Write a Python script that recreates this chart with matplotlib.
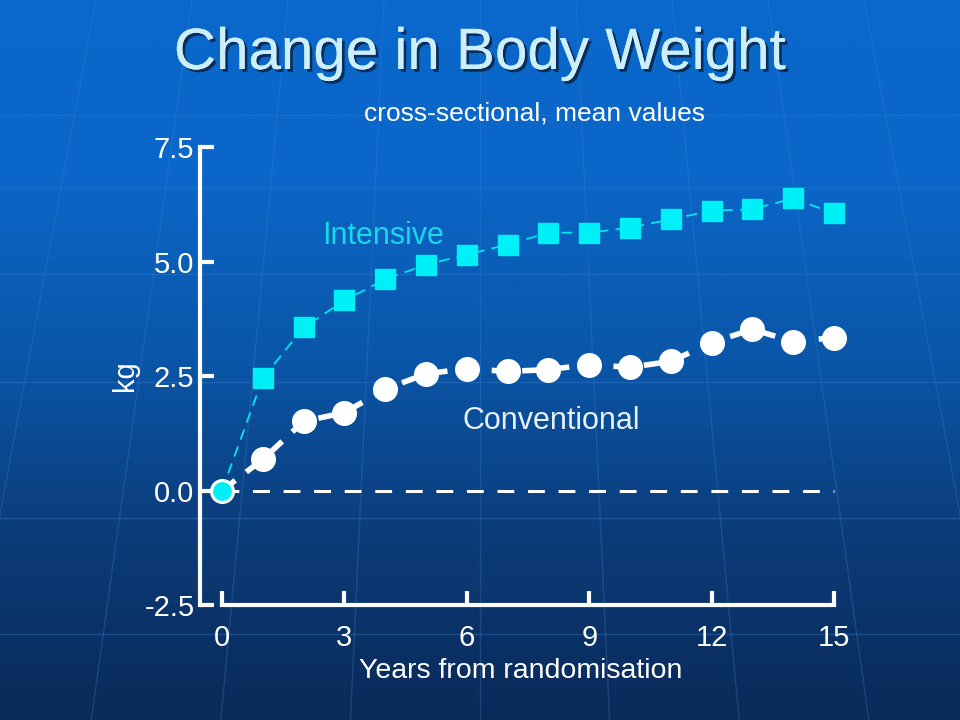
import numpy as np
import matplotlib
matplotlib.use("Agg")
import matplotlib.pyplot as plt
import matplotlib.patheffects as pe
from matplotlib.colors import LinearSegmentedColormap

plt.rcParams['font.family'] = ['Liberation Sans', 'DejaVu Sans']

years = list(range(16))
intensive = [0.0, 2.45, 3.56, 4.15, 4.61, 4.93, 5.15, 5.37, 5.63, 5.63,
             5.74, 5.92, 6.11, 6.14, 6.38, 6.05]
conventional = [0.0, 0.68, 1.51, 1.70, 2.21, 2.55, 2.66, 2.60, 2.64, 2.75,
                2.69, 2.82, 3.23, 3.52, 3.25, 3.34]
xticks = [0, 3, 6, 9, 12, 15]
yticks = [-2.5, 0.0, 2.5, 5.0, 7.5]

fig = plt.figure(figsize=(9.6, 7.2), dpi=100)

# background gradient like the slide
bg = fig.add_axes([0, 0, 1, 1], zorder=-10)
cmap = LinearSegmentedColormap.from_list(
    "slide", ["#0a2a58", "#0c3b78", "#0a56a8", "#0a66c8", "#0a68cc"])
grad = np.linspace(0, 1, 256).reshape(-1, 1)
bg.imshow(grad, aspect="auto", cmap=cmap, origin="lower", extent=[0, 1, 0, 1])
# faint globe lines
for yy in [0.12, 0.28, 0.47, 0.62, 0.74, 0.84]:
    bg.plot([0, 1], [yy, yy], color="#3a7fd0", lw=1, alpha=0.35)
t = np.linspace(0, 1, 100)
for x0 in np.linspace(-0.2, 1.2, 15):
    xx = 0.5 + (x0 - 0.5) * (1 + 0.35 * (1 - t))
    bg.plot(xx, t, color="#3a7fd0", lw=1, alpha=0.3)
bg.set_xlim(0, 1)
bg.set_ylim(0, 1)
bg.axis("off")

ax = fig.add_axes([0.2083, 0.1597, 0.669, 0.6361])
ax.patch.set_alpha(0)

ax.plot([0, 15], [0, 0], color="white", lw=2.2, dashes=(5.5, 4.5), zorder=1)
ax.plot(years, conventional, color="white", lw=4, dashes=(3, 2.5),
        marker="o", markersize=17, markerfacecolor="white",
        markeredgecolor="white", zorder=2, clip_on=False)
ax.plot(years[1:], intensive[1:], color="#00e8f0", lw=1.3, dashes=(6, 4),
        marker="s", markersize=14, markerfacecolor="#00f0f8",
        markeredgecolor="#00f0f8", zorder=3, clip_on=False)
ax.plot(years[:2], intensive[:2], color="#00e8f0", lw=1.3, dashes=(6, 4), zorder=3)
ax.plot([0], [0], marker="o", markersize=15, markerfacecolor="#00f0f8",
        markeredgecolor="white", markeredgewidth=1.5, zorder=4, clip_on=False)

ax.set_xlim(-0.54, 15.2)
ax.set_ylim(-2.5, 7.5)
ax.set_xticks(xticks)
ax.set_yticks(yticks)
ax.set_yticklabels([f"{v:.1f}" for v in yticks])
for s in ["top", "right"]:
    ax.spines[s].set_visible(False)
ax.spines["left"].set_bounds(-2.5, 7.5)
ax.spines["bottom"].set_bounds(0, 15)
for s in ["left", "bottom"]:
    ax.spines[s].set_color("white")
    ax.spines[s].set_linewidth(3)
ax.tick_params(direction="in", colors="white", width=3, length=10,
               labelsize=21, pad=14)
ax.tick_params(axis="y", pad=4)

ax.set_xlabel("Years from randomisation", color="white", fontsize=20.5,
              labelpad=4)
ax.set_ylabel("kg", color="white", fontsize=21, labelpad=4)

ax.text(3.95, 5.55, "Intensive", color="#19d8ea", fontsize=22,
        ha="center", va="center")
ax.text(8.06, 1.51, "Conventional", color="#e8f0f8", fontsize=22,
        ha="center", va="center")

fig.text(0.5, 0.925, "Change in Body Weight", color="#cdeefc", fontsize=42,
         ha="center", va="center",
         path_effects=[pe.withSimplePatchShadow(offset=(2, -2),
                                                shadow_rgbFace="#0a2040",
                                                alpha=0.8), pe.Normal()])
fig.text(0.557, 0.843, "cross-sectional, mean values", color="white",
         fontsize=19, ha="center", va="center")

fig.savefig("out.png", dpi=100)
